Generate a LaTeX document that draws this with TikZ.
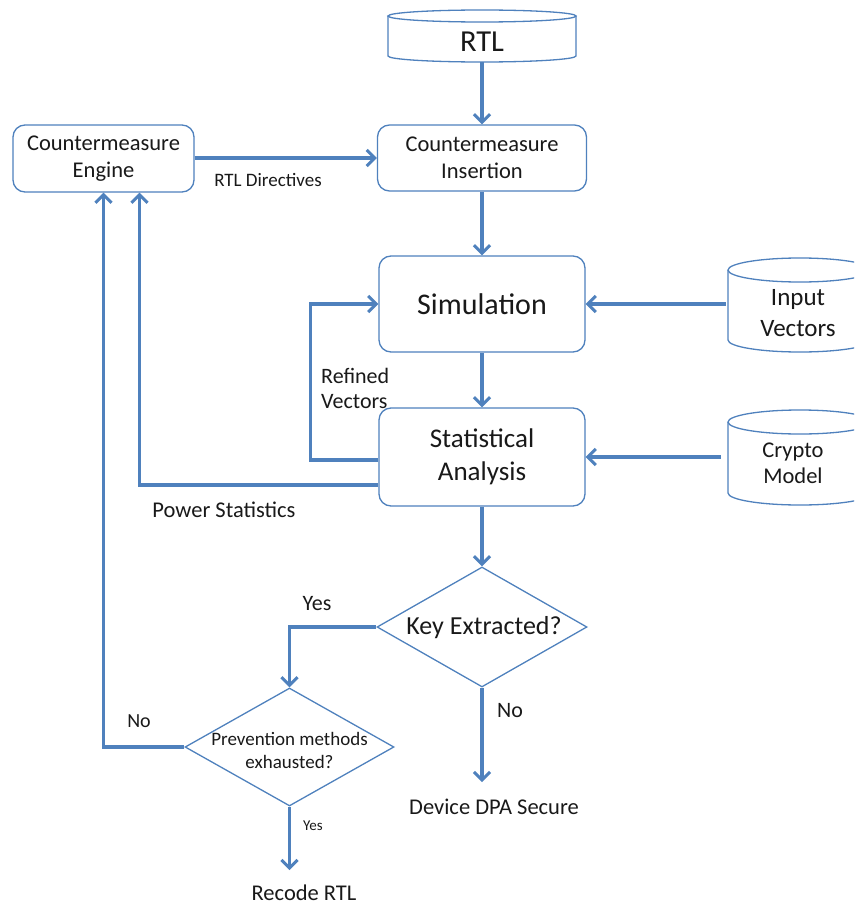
\documentclass[tikz,border=0pt]{standalone}
\usepackage{fontspec}
\setmainfont{Carlito}
\usetikzlibrary{arrows.meta,shapes.geometric}
\definecolor{lb}{RGB}{79,129,189}
\definecolor{tx}{RGB}{25,25,25}
\begin{document}
\begin{tikzpicture}[x=1pt,y=-1pt,
 box/.style={draw=lb, line width=1.3pt, rounded corners=12pt, fill=white, text=tx, align=center, inner sep=0pt},
 dia/.style={draw=lb, line width=1.3pt, diamond, inner sep=0pt},
 lbl/.style={text=tx, inner sep=0pt, align=left},
 anchorbox/.style={inner sep=0pt, text=tx, align=center},
 arr/.style={draw=lb, line width=3.4pt, -{Straight Barb[length=8pt,width=16pt,line width=3pt]}},
 cyl/.style={draw=lb, line width=1.3pt, fill=white}]
\useasboundingbox (0,0) rectangle (854,907);
\clip (0,0) rectangle (854,907);

% cylinders
\draw[cyl] (388,16) -- (388,56) arc[start angle=180, end angle=0, x radius=94, y radius=6] -- (576,16);
\draw[cyl] (482,16) ellipse [x radius=94, y radius=6];
\draw[cyl] (728,270) -- (728,340) arc[start angle=180, end angle=0, x radius=72, y radius=12] -- (872,270);
\draw[cyl] (800,270) ellipse [x radius=72, y radius=12];
\draw[cyl] (728,422) -- (728,493) arc[start angle=180, end angle=0, x radius=72, y radius=12] -- (872,422);
\draw[cyl] (800,422) ellipse [x radius=72, y radius=12];

\node[anchorbox, minimum width=188pt, minimum height=40pt, font=\fontsize{30.5}{32}\selectfont] (rtl) at (482,42) {RTL};
\node[anchorbox, minimum width=144pt, font=\fontsize{25}{31}\selectfont] (iv) at (798,313) {Input\\Vectors};
\node[anchorbox, minimum width=144pt, font=\fontsize{22.5}{26}\selectfont] (cm) at (793,463) {Crypto\\Model};

% boxes
\node[box, minimum width=181pt, minimum height=67pt, font=\fontsize{22.5}{27}\selectfont] (ce) at (103.5,158.5) {Countermeasure\\Engine};
\node[box, minimum width=209pt, minimum height=66pt, font=\fontsize{22.5}{27}\selectfont] (ci) at (482,158) {Countermeasure\\Insertion};
\node[box, minimum width=206pt, minimum height=96pt, font=\fontsize{30}{32}\selectfont] (sim) at (482,304) {Simulation};
\node[box, minimum width=206pt, minimum height=98pt, font=\fontsize{27}{33}\selectfont] (sa) at (482,457) {Statistical\\Analysis};

% diamonds
\node[dia, minimum width=210pt, minimum height=120pt, aspect=1.75] (d1) at (482,627) {};
\node[anchorbox, font=\fontsize{26}{28}\selectfont] (d1t) at (484,628) {Key Extracted?};
\node[dia, minimum width=209pt, minimum height=118pt, aspect=1.77] (d2) at (289.5,747) {};
\node[anchorbox, font=\fontsize{19}{23}\selectfont] (d2t) at (289.5,750) {Prevention methods\\exhausted?};

% labels
\node[lbl, font=\fontsize{19}{22}\selectfont] (lrd) at (268,180) {RTL Directives};
\node[lbl, font=\fontsize{22}{25}\selectfont, anchor=west] (lrv) at (321,388) {Refined\\Vectors};
\node[lbl, font=\fontsize{22.5}{24}\selectfont] (lps) at (224,510) {Power Statistics};
\node[lbl, font=\fontsize{22}{24}\selectfont] (ly1) at (317,604) {Yes};
\node[lbl, font=\fontsize{20}{22}\selectfont] (ln1) at (139,721) {No};
\node[lbl, font=\fontsize{22}{24}\selectfont] (ln2) at (510,711) {No};
\node[lbl, font=\fontsize{15}{18}\selectfont] (ly2) at (313,826) {Yes};
\node[lbl, font=\fontsize{22.5}{26}\selectfont] (dpa) at (494,807) {Device DPA Secure};
\node[lbl, font=\fontsize{22.5}{26}\selectfont] (rec) at (304,893) {Recode RTL};

\coordinate (e1) at (482,782);
\coordinate (e2) at (289.5,870);

% connectors
\draw[arr] (rtl.south) -- (ci.north);
\draw[arr] (ce.east |- ci.west) -- (ci.west);
\draw[arr] (ci.south) -- (sim.north);
\draw[arr] (sim.east -| iv.west) -- (sim.east);
\draw[arr] (sim.south) -- (sa.north);
\draw[arr] (sa.east -| cm.west) -- (sa.east);
\draw[arr] ([yshift=-3pt]sa.west) -- ++(-68,0) |- (sim.west);
\draw[arr] ([yshift=-28pt]sa.west) -| ([xshift=36pt]ce.south);
\draw[arr] (sa.south) -- (d1.north);
\draw[arr] (d1.west) -| (d2.north);
\draw[arr] (d2.west) -| (ce.south);
\draw[arr] (d1.south) -- (e1);
\draw[arr] (d2.south) -- (e2);
\end{tikzpicture}
\end{document}
